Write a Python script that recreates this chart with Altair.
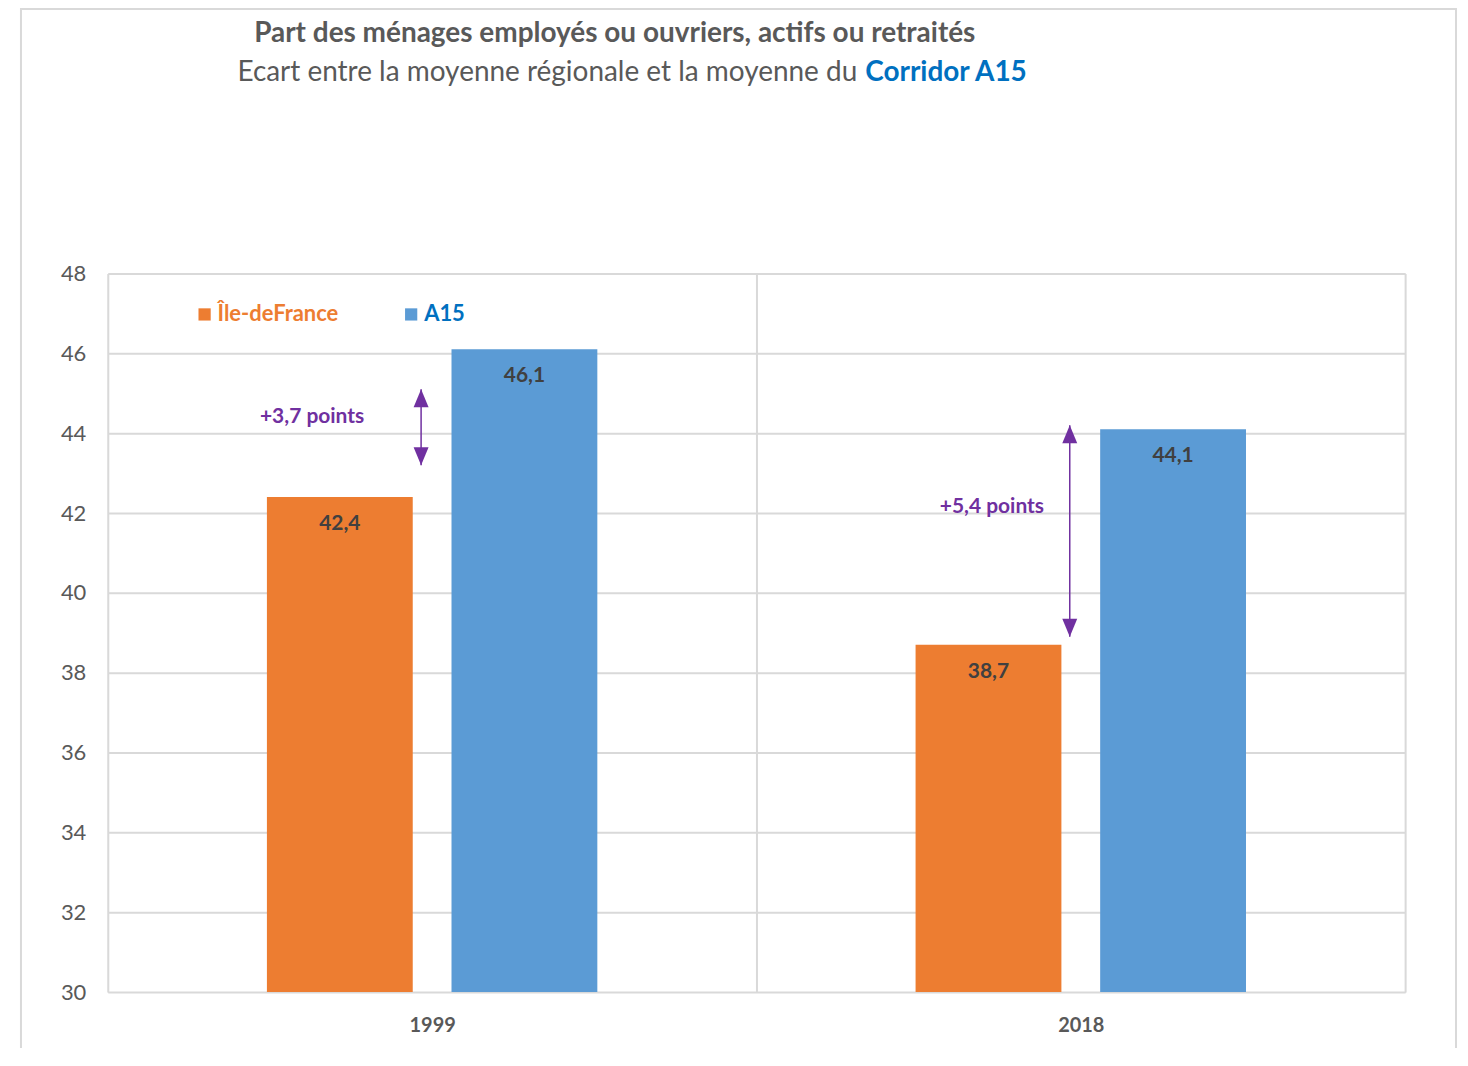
import altair as alt
import pandas as pd

# ---- data ----
years = ["1999", "2018"]
series = ["Île-deFrance", "A15"]
ile_de_france = [42.4, 38.7]
a15 = [46.1, 44.1]
series_colors = ["#ED7D31", "#5B9BD5"]
legend_text_colors = ["#ED7D31", "#0070C0"]
y_ticks = [30, 32, 34, 36, 38, 40, 42, 44, 46, 48]

gap_labels = ["+3,7 points", "+5,4 points"]
arrow_top = [45.1, 44.2]
arrow_bottom = [43.2, 38.9]
gap_label_y = [44.4, 42.15]

title_line1 = "Part des ménages employés ou ouvriers, actifs ou retraités"
title_line2a = "Ecart entre la moyenne régionale et la moyenne du"
title_line2b = "Corridor A15"

FONT = "Lato"
GRID = "#D9D9D9"
GREY = "#595959"
PURPLE = "#7030A0"

rows = []
for i, y in enumerate(years):
    for s, vals in zip(series, [ile_de_france, a15]):
        v = vals[i]
        rows.append({"year": y, "series": s, "value": v,
                     "label": f"{v:.1f}".replace(".", ",")})
df = pd.DataFrame(rows)

arrows = pd.DataFrame({"year": years, "top": arrow_top, "bottom": arrow_bottom,
                       "gap": gap_labels, "ly": gap_label_y})

x_axis = alt.Axis(title=None, labelAngle=0, tickBand="extent", grid=True,
                  gridColor=GRID, gridWidth=2, domain=False, ticks=False,
                  labelFontSize=20, labelFontWeight="bold", labelColor=GREY,
                  labelPadding=24, labelFont=FONT)
x_scale = alt.Scale(domain=years, paddingInner=0, paddingOuter=0)
y_scale = alt.Scale(domain=[30, 48], nice=False, zero=False)
y_axis = alt.Axis(values=y_ticks, title=None, domain=False, ticks=False,
                  grid=True, gridColor=GRID, gridWidth=2, labelFontSize=22,
                  labelColor=GREY, labelPadding=22, labelFont=FONT)


def xenc(bp=None):
    if bp is None:
        return alt.X("year:N", scale=x_scale, axis=x_axis)
    return alt.X("year:N", scale=x_scale, axis=x_axis, bandPosition=bp)


def yenc(field):
    return alt.Y(field, scale=y_scale, axis=y_axis)


xoff = alt.XOffset("series:N", scale=alt.Scale(domain=series, paddingInner=0.21,
                                                 paddingOuter=0.862))

border = alt.Chart(pd.DataFrame({"a": [0]})).mark_rect(
    fill=None, stroke=GRID, strokeWidth=2
).encode(x=alt.value(-87), x2=alt.value(1351), y=alt.value(-265), y2=alt.value(800))

bars = alt.Chart(df).mark_bar(clip=True).encode(
    x=xenc(), xOffset=xoff, y=yenc("value:Q"), y2=alt.datum(30),
    color=alt.Color("series:N", scale=alt.Scale(domain=series, range=series_colors),
                    legend=None),
)

values = alt.Chart(df).mark_text(
    dy=27, font=FONT, fontSize=21, fontWeight="bold", color="#404040", baseline="middle"
).encode(x=xenc(), xOffset=xoff, y=yenc("value:Q"), text="label:N")

rule = alt.Chart(arrows).mark_rule(color=PURPLE, strokeWidth=1.5).encode(
    x=xenc(0.483), y=yenc("top:Q"), y2="bottom:Q")

head_up = alt.Chart(arrows).mark_point(
    shape="M0,0L-0.75,1.8L0.75,1.8Z", filled=True, size=400, color=PURPLE, opacity=1
).encode(x=xenc(0.483), y=yenc("top:Q"))

head_down = alt.Chart(arrows).mark_point(
    shape="M0,0L-0.75,-1.8L0.75,-1.8Z", filled=True, size=400, color=PURPLE, opacity=1
).encode(x=xenc(0.483), y=yenc("bottom:Q"))

gap1 = alt.Chart(arrows).transform_filter(alt.datum.year == years[0]).mark_text(
    font=FONT, fontSize=21, fontWeight="bold", color=PURPLE, baseline="middle"
).encode(x=xenc(0.315), y=yenc("ly:Q"), text="gap:N")

gap2 = alt.Chart(arrows).transform_filter(alt.datum.year == years[1]).mark_text(
    font=FONT, fontSize=21, fontWeight="bold", color=PURPLE, baseline="middle"
).encode(x=xenc(0.363), y=yenc("ly:Q"), text="gap:N")

# legend (manual, to colour each label like its series)
leg_pos = [(97, 110), (304, 317)]
legend_layers = []
for s, c, tc, (sx, tx) in zip(series, series_colors, legend_text_colors, leg_pos):
    d = pd.DataFrame({"t": [s]})
    legend_layers.append(alt.Chart(d).mark_square(size=150, color=c, opacity=1).encode(
        x=alt.value(sx), y=alt.value(41)))
    legend_layers.append(alt.Chart(d).mark_text(
        font=FONT, fontSize=22, fontWeight="bold", color=tc, align="left",
        baseline="middle").encode(x=alt.value(tx), y=alt.value(41), text="t:N"))

t1 = alt.Chart(pd.DataFrame({"t": [title_line1]})).mark_text(
    font=FONT, fontSize=28, fontWeight="bold", color=GREY, align="center",
    baseline="middle").encode(x=alt.value(508), y=alt.value(-240), text="t:N")
t2a = alt.Chart(pd.DataFrame({"t": [title_line2a]})).mark_text(
    font=FONT, fontSize=28, color=GREY, align="right",
    baseline="middle").encode(x=alt.value(751), y=alt.value(-201), text="t:N")
t2b = alt.Chart(pd.DataFrame({"t": [title_line2b]})).mark_text(
    font=FONT, fontSize=28, fontWeight="bold", color="#0070C0", align="left",
    baseline="middle").encode(x=alt.value(759), y=alt.value(-201), text="t:N")

chart = alt.layer(
    border, bars, values, rule, head_up, head_down, gap1, gap2,
    *legend_layers, t1, t2a, t2b
).properties(
    width=1300, height=720,
    autosize=alt.AutoSizeParams(type="none"),
    padding={"left": 100, "top": 265, "right": 55, "bottom": 55},
).configure_view(stroke=GRID, strokeWidth=2).configure(background="white")

chart.save("out.html", embed_options={"renderer": "svg", "actions": False})
